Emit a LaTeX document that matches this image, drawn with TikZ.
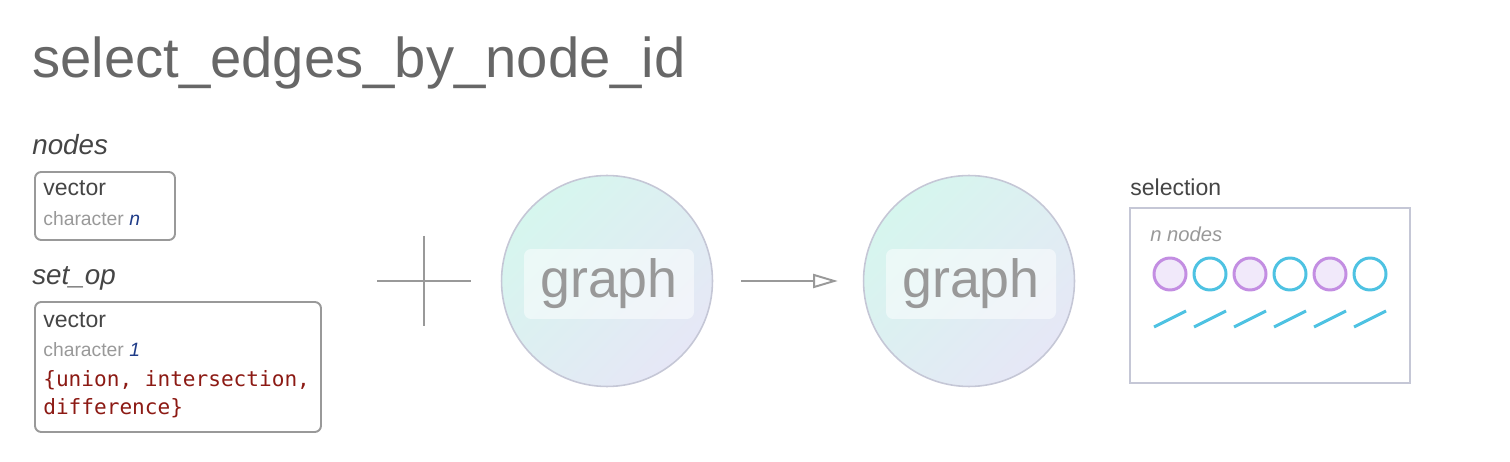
\documentclass[tikz,border=0pt]{standalone}
\usepackage{fontspec}
\setmainfont{Liberation Sans}
\setmonofont{DejaVu Sans Mono}
\usepackage{xcolor}
\usepackage{tikz}
\usetikzlibrary{positioning}
\usetikzlibrary{arrows.meta}
\definecolor{titlegray}{HTML}{676767}
\definecolor{darktext}{HTML}{454545}
\definecolor{lighttext}{HTML}{999999}
\definecolor{linegray}{HTML}{999999}
\definecolor{argblue}{HTML}{1F3C88}
\definecolor{argred}{HTML}{8C1A14}
\definecolor{mint}{HTML}{D6F6EE}
\definecolor{lavender}{HTML}{E6E7F6}
\definecolor{ringgray}{HTML}{C5C7D6}
\definecolor{selpurple}{HTML}{C38EE2}
\definecolor{selfill}{HTML}{F1E9FA}
\definecolor{selblue}{HTML}{4EC2E2}
\tikzset{edge/.style = {->,> = {Triangle[open,length=14pt,width=8pt]},draw=linegray,line width=1.1pt}}

\begin{document}
\begin{tikzpicture}[x=0.02cm,y=-0.02cm,
    arg box/.style={draw=linegray,line width=1.1pt,rounded corners=3.5pt,inner sep=0pt},
    arg name/.style={anchor=base west,inner sep=0pt,text=darktext,font=\itshape\fontsize{15.8}{18}\selectfont},
    type text/.style={anchor=base west,inner sep=0pt,text=darktext,font=\fontsize{13.1}{15}\selectfont},
    sub text/.style={anchor=base west,inner sep=0pt,text=lighttext,font=\fontsize{11}{13}\selectfont},
    code text/.style={anchor=base west,inner sep=0pt,text=argred,font=\ttfamily\fontsize{12}{14}\selectfont},
    graph node/.style={circle,draw=ringgray,line width=0.9pt,minimum size=4.22cm,
        shading=axis,top color=mint,bottom color=lavender,shading angle=45},
    graph label/.style={rounded corners=4pt,fill=white,fill opacity=0.5,text opacity=1,
        minimum width=3.4cm,minimum height=1.4cm,text=lighttext,font=\fontsize{30.6}{34}\selectfont},
    sel node/.style={circle,line width=1.7pt,minimum size=0.64cm,inner sep=0pt}]
    \useasboundingbox (0,0) rectangle (1510,462);

    \node[anchor=base west,inner sep=0pt,text=titlegray,font=\fontsize{32}{38}\selectfont] (title) at (32,78) {select\_edges\_by\_node\_id};

    % nodes argument
    \node[arg name] (nodesname) at (32,155) {nodes};
    \node[arg box,minimum width=2.8cm,minimum height=1.36cm] (nodesbox) at (105,206) {};
    \node[type text] (nodesvec) at (43,196) {vector};
    \node[sub text] (nodeschar) at (43,226) {character \textcolor{argblue}{\itshape n}};

    % set_op argument
    \node[arg name] (setopname) at (32,285) {set\_op};
    \node[arg box,minimum width=5.72cm,minimum height=2.6cm] (setopbox) at (178,367) {};
    \node[type text] (setopvec) at (43,327) {vector};
    \node[sub text] (setopchar) at (43,357) {character \textcolor{argblue}{\itshape 1}};
    \node[code text] (setopcode1) at (43,386) {\{union, intersection,};
    \node[code text] (setopcode2) at (43,414) {difference\}};

    % plus
    \draw[linegray,line width=1.1pt] (377,281) -- (471,281);
    \draw[linegray,line width=1.1pt] (424,236) -- (424,326);

    % graphs
    \node[graph node] (g1) at (607,281) {};
    \node[graph label] (g1label) at (609,284) {graph};
    \node[graph node] (g2) at (969,281) {};
    \node[graph label] (g2label) at (971,284) {graph};
    \draw[edge,shorten <=0.56cm,shorten >=0.5cm] (g1) -- (g2);

    % selection
    \node[type text] (selname) at (1130,196) {selection};
    \node[draw=ringgray,line width=1.1pt,minimum width=5.6cm,minimum height=3.5cm,inner sep=0pt] (selbox) at (1270,295.5) {};
    \node[anchor=base west,inner sep=0pt,text=lighttext,font=\itshape\fontsize{11.5}{13}\selectfont] (selcount) at (1150,242) {n nodes};
    \foreach \i in {0,...,5} {
        \pgfmathtruncatemacro{\odd}{mod(\i,2)}
        \ifnum\odd=0
            \node[sel node,draw=selpurple,fill=selfill] (sel\i) at (1170+40*\i,274) {};
        \else
            \node[sel node,draw=selblue] (sel\i) at (1170+40*\i,274) {};
        \fi
        \draw[selblue,line width=1.7pt] (1154+40*\i,327) -- ++(32,-16);
    }
\end{tikzpicture}
\end{document}
